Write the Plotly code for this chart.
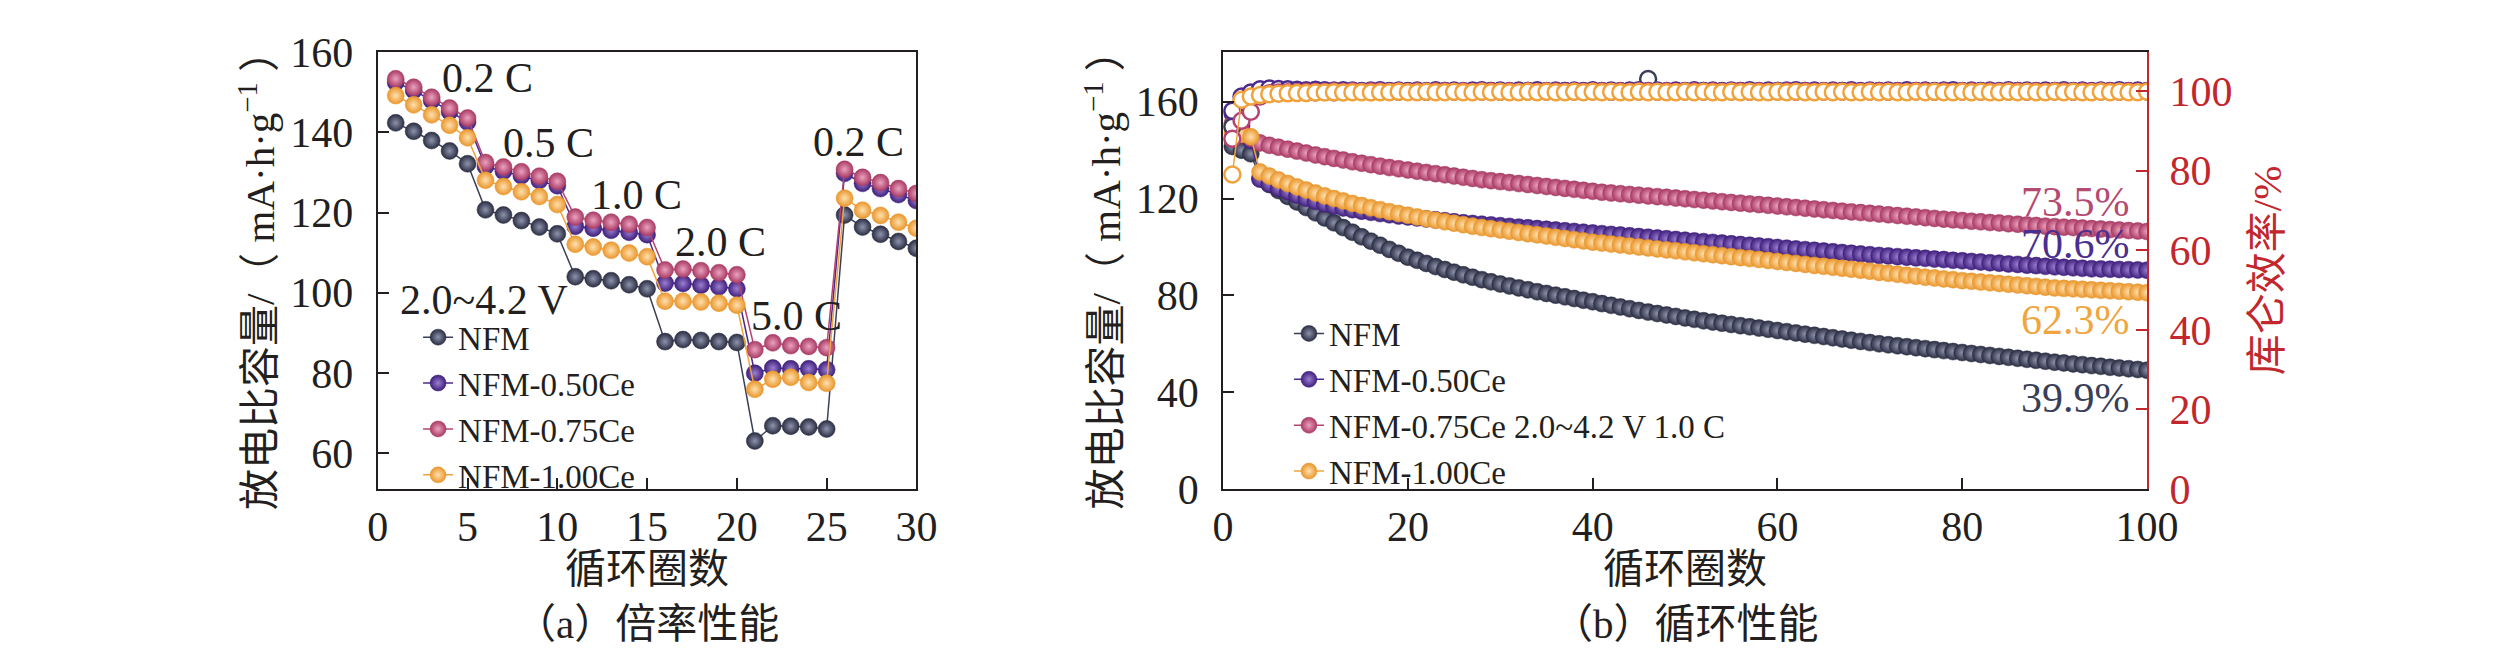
import plotly.graph_objects as go

FONT = "Liberation Serif, Noto Sans CJK SC, serif"
INK = "#231f20"
RED = "#c1272d"

W, H = 2519, 668

# ---------------- data ----------------
series_names = ["NFM", "NFM-0.50Ce", "NFM-0.75Ce", "NFM-1.00Ce"]
legend_names_b = ["NFM", "NFM-0.50Ce", "NFM-0.75Ce 2.0~4.2 V 1.0 C", "NFM-1.00Ce"]

# (a) rate performance, 5 cycles per rate
cycles_a = list(range(1, 31))
rate_nfm = [142.4, 140.3, 138.0, 135.4, 132.2, 120.7, 119.4, 118.0, 116.4, 114.7,
            104.0, 103.5, 103.0, 102.0, 101.0, 87.8, 88.3, 88.1, 87.8, 87.6,
            63.0, 66.8, 66.7, 66.5, 66.0, 119.4, 116.4, 114.6, 112.8, 111.1]
rate_050 = [152.5, 150.5, 148.0, 145.2, 142.6, 131.5, 130.3, 129.2, 128.0, 126.7,
            116.6, 116.1, 115.6, 115.1, 114.5, 102.4, 102.3, 101.9, 101.5, 101.0,
            79.9, 81.2, 81.0, 81.0, 80.8, 129.8, 127.3, 126.0, 124.5, 123.0]
rate_075 = [153.4, 151.3, 148.8, 146.1, 143.6, 132.5, 131.4, 130.2, 129.1, 127.8,
            118.9, 118.1, 117.6, 117.1, 116.3, 105.7, 105.9, 105.5, 105.0, 104.5,
            85.8, 87.5, 86.8, 86.6, 86.3, 130.8, 128.8, 127.5, 126.0, 124.8]
rate_100 = [149.2, 146.9, 144.4, 141.8, 138.7, 128.1, 126.5, 125.2, 124.0, 122.0,
            112.1, 111.4, 110.6, 109.9, 109.0, 97.9, 97.9, 97.7, 97.4, 96.9,
            75.9, 78.4, 78.9, 77.6, 77.4, 123.6, 120.6, 119.3, 117.6, 116.1]

rate_labels = ["0.2 C", "0.5 C", "1.0 C", "2.0 C", "5.0 C", "0.2 C", "2.0~4.2 V"]
rate_label_x = [6.1, 9.5, 14.4, 19.1, 23.3, 26.8, 5.9]
rate_label_y = [153.6, 137.4, 124.5, 112.6, 94.3, 137.6, 98.3]

# (b) cycling at 1.0 C
cycles_b = list(range(1, 101))
cap_nfm = [141.5, 140.0, 138.5, 128.5, 125.8, 123.3, 120.9, 118.6, 116.3, 114.1,
           112.0, 110.0, 108.0, 106.1, 104.2, 102.4, 100.7, 99.0, 97.4, 95.8,
           94.5, 93.2, 91.9, 90.7, 89.6, 88.5, 87.5, 86.5, 85.6, 84.7,
           83.9, 83.1, 82.3, 81.5, 80.8, 80.1, 79.4, 78.7, 78.0, 77.4,
           76.6, 75.9, 75.2, 74.5, 73.8, 73.1, 72.5, 71.9, 71.3, 70.7,
           70.1, 69.5, 69.0, 68.5, 68.0, 67.5, 67.0, 66.5, 66.0, 65.5,
           65.0, 64.5, 64.0, 63.5, 63.0, 62.5, 62.0, 61.5, 61.0, 60.5,
           60.0, 59.6, 59.2, 58.8, 58.4, 58.0, 57.6, 57.2, 56.8, 56.4,
           56.0, 55.6, 55.2, 54.8, 54.4, 54.0, 53.6, 53.2, 52.8, 52.4,
           52.1, 51.7, 51.4, 51.0, 50.7, 50.3, 50.0, 49.7, 49.4, 49.1]
cap_050 = [155.0, 150.0, 144.0, 128.0, 126.0, 124.3, 122.8, 121.4, 120.1, 118.9,
           117.8, 116.9, 116.1, 115.4, 114.8, 114.3, 113.8, 113.3, 112.8, 112.4,
           112.0, 111.6, 111.2, 110.8, 110.4, 110.0, 109.7, 109.4, 109.1, 108.8,
           108.5, 108.2, 107.9, 107.6, 107.3, 107.0, 106.7, 106.4, 106.1, 105.8,
           105.5, 105.2, 104.9, 104.6, 104.3, 104.0, 103.7, 103.4, 103.1, 102.8,
           102.5, 102.2, 101.9, 101.6, 101.3, 101.0, 100.7, 100.4, 100.1, 99.8,
           99.5, 99.2, 98.9, 98.6, 98.3, 98.0, 97.7, 97.4, 97.1, 96.8,
           96.5, 96.3, 96.0, 95.8, 95.5, 95.3, 95.0, 94.8, 94.5, 94.3,
           94.0, 93.8, 93.5, 93.3, 93.0, 92.8, 92.5, 92.3, 92.0, 91.8,
           91.6, 91.4, 91.2, 91.0, 90.9, 90.8, 90.7, 90.6, 90.5, 90.4]
cap_075 = [151.0, 148.0, 145.0, 143.0, 142.0, 141.2, 140.4, 139.6, 138.8, 138.0,
           137.3, 136.6, 135.9, 135.2, 134.6, 134.0, 133.4, 132.8, 132.3, 131.8,
           131.3, 130.8, 130.3, 129.8, 129.3, 128.8, 128.3, 127.8, 127.4, 127.0,
           126.6, 126.2, 125.8, 125.4, 125.0, 124.6, 124.2, 123.8, 123.4, 123.0,
           122.6, 122.3, 122.0, 121.7, 121.4, 121.1, 120.8, 120.5, 120.2, 119.9,
           119.6, 119.3, 119.0, 118.7, 118.4, 118.1, 117.8, 117.5, 117.2, 116.9,
           116.6, 116.3, 116.0, 115.7, 115.4, 115.1, 114.8, 114.5, 114.2, 113.9,
           113.6, 113.3, 113.0, 112.7, 112.4, 112.1, 111.8, 111.5, 111.2, 110.9,
           110.6, 110.4, 110.1, 109.9, 109.6, 109.4, 109.1, 108.9, 108.6, 108.4,
           108.2, 108.0, 107.8, 107.6, 107.4, 107.2, 107.0, 106.8, 106.6, 106.4]
cap_100 = [147.0, 146.5, 145.5, 131.0, 129.3, 127.7, 126.2, 124.8, 123.5, 122.3,
           121.1, 120.0, 119.0, 118.0, 117.1, 116.2, 115.4, 114.6, 113.8, 113.1,
           112.4, 111.7, 111.0, 110.4, 109.8, 109.2, 108.6, 108.0, 107.5, 107.0,
           106.5, 106.0, 105.5, 105.0, 104.5, 104.0, 103.5, 103.0, 102.5, 102.0,
           101.6, 101.2, 100.8, 100.4, 100.0, 99.6, 99.2, 98.8, 98.4, 98.0,
           97.6, 97.2, 96.8, 96.4, 96.0, 95.6, 95.2, 94.8, 94.4, 94.0,
           93.6, 93.2, 92.8, 92.4, 92.0, 91.6, 91.2, 90.8, 90.4, 90.0,
           89.5, 89.1, 88.7, 88.3, 87.9, 87.5, 87.2, 86.8, 86.5, 86.1,
           85.8, 85.5, 85.2, 84.9, 84.6, 84.3, 84.0, 83.7, 83.4, 83.1,
           82.9, 82.7, 82.5, 82.3, 82.1, 81.9, 81.7, 81.5, 81.3, 81.1]

# coulombic efficiency (right axis, %)
ce_nfm = [91.0, 97.2, 98.5, 99.1, 99.4, 99.5, 99.6, 99.6, 99.7, 99.7,
          99.8, 99.7, 99.8, 99.8, 99.9, 99.8, 99.8, 99.9, 99.8, 99.9,
          99.9, 99.8, 99.9, 100.0, 99.9, 99.8, 99.9, 99.9, 100.0, 99.9,
          99.8, 99.9, 100.0, 99.9, 99.9, 99.8, 100.0, 99.9, 99.9, 100.0,
          99.9, 99.8, 99.9, 100.0, 99.9, 103.0, 99.9, 99.8, 100.0, 99.9,
          99.9, 100.0, 99.8, 99.9, 99.9, 100.0, 99.9, 99.8, 99.9, 100.0,
          99.9, 99.9, 100.0, 99.8, 99.9, 99.9, 100.0, 99.9, 99.8, 99.9,
          100.0, 99.9, 99.9, 99.8, 100.0, 99.9, 99.9, 100.0, 99.8, 99.9,
          99.9, 100.0, 99.9, 99.8, 99.9, 100.0, 99.9, 99.9, 99.8, 100.0,
          99.9, 99.9, 100.0, 99.8, 99.9, 99.9, 100.0, 99.9, 99.8, 99.9]
ce_050 = [95.0, 98.6, 99.6, 100.4, 100.6, 100.5, 100.4, 100.3, 100.2, 100.3,
          100.2, 100.1, 100.2, 100.1, 100.0, 100.1, 100.2, 100.0, 100.1, 100.0,
          100.1, 100.0, 100.2, 100.0, 100.1, 100.0, 100.1, 100.2, 100.0, 100.1,
          100.0, 100.1, 100.0, 100.2, 100.0, 100.1, 100.0, 100.1, 100.0, 100.2,
          100.0, 100.1, 100.0, 100.1, 100.2, 100.0, 100.1, 100.0, 100.1, 100.0,
          100.2, 100.0, 100.1, 100.0, 100.1, 100.0, 100.2, 100.0, 100.1, 100.0,
          100.1, 100.2, 100.0, 100.1, 100.0, 100.1, 100.0, 100.2, 100.0, 100.1,
          100.0, 100.1, 100.0, 100.2, 100.0, 100.1, 100.0, 100.1, 100.2, 100.0,
          100.1, 100.0, 100.1, 100.0, 100.2, 100.0, 100.1, 100.0, 100.1, 100.0,
          100.2, 100.0, 100.1, 100.0, 100.1, 100.0, 100.2, 100.0, 100.1, 100.0]
ce_075 = [88.0, 92.5, 94.8, 98.6, 99.4, 99.6, 99.7, 99.7, 99.8, 99.8,
          99.8, 99.9, 99.8, 99.9, 99.8, 99.9, 99.9, 99.8, 99.9, 99.8,
          99.9, 99.8, 99.9, 99.9, 99.8, 99.9, 99.8, 99.9, 99.9, 99.8,
          99.9, 99.8, 99.9, 99.8, 99.9, 99.9, 99.8, 99.9, 99.8, 99.9,
          99.9, 99.8, 99.9, 99.8, 99.9, 99.9, 99.8, 99.9, 99.8, 99.9,
          99.9, 99.8, 99.9, 99.8, 99.9, 99.9, 99.8, 99.9, 99.8, 99.9,
          99.9, 99.8, 99.9, 99.8, 99.9, 99.9, 99.8, 99.9, 99.8, 99.9,
          99.9, 99.8, 99.9, 99.8, 99.9, 99.9, 99.8, 99.9, 99.8, 99.9,
          99.9, 99.8, 99.9, 99.8, 99.9, 99.9, 99.8, 99.9, 99.8, 99.9,
          99.9, 99.8, 99.9, 99.8, 99.9, 99.9, 99.8, 99.9, 99.8, 99.9]
ce_100 = [79.0, 97.8, 98.6, 99.0, 99.2, 99.3, 99.4, 99.5, 99.5, 99.6,
          99.6, 99.7, 99.6, 99.7, 99.7, 99.6, 99.7, 99.7, 99.8, 99.7,
          99.7, 99.8, 99.7, 99.7, 99.8, 99.7, 99.7, 99.8, 99.7, 99.8,
          99.7, 99.7, 99.8, 99.7, 99.8, 99.7, 99.7, 99.8, 99.7, 99.8,
          99.7, 99.8, 99.7, 99.7, 99.8, 99.7, 99.8, 99.7, 99.7, 99.8,
          99.7, 99.8, 99.7, 99.7, 99.8, 99.7, 99.8, 99.7, 99.7, 99.8,
          99.7, 99.8, 99.7, 99.7, 99.8, 99.7, 99.8, 99.7, 99.7, 99.8,
          99.7, 99.8, 99.7, 99.7, 99.8, 99.7, 99.8, 99.7, 99.7, 99.8,
          99.7, 99.8, 99.7, 99.7, 99.8, 99.7, 99.8, 99.7, 99.7, 99.8,
          99.7, 99.8, 99.7, 99.7, 99.8, 99.7, 99.8, 99.7, 99.7, 99.8]

retention_labels = ["39.9%", "70.6%", "73.5%", "62.3%"]
retention_y = [37.7, 101.2, 118.5, 69.8]

# ---------------- styling ----------------
line_cols = ["#3b3f57", "#4b2a8c", "#b4446f", "#f0a33c"]
ball_cols = ["#2b2e42", "#3f1f7c", "#a83a63", "#e9962c"]
glow_cols = ["#8e93ad", "#9b7fd0", "#eca2bf", "#ffe0ae"]
text_cols = ["#3a3f58", "#4b2f8f", "#b44a72", "#f0a640"]

rates = [rate_nfm, rate_050, rate_075, rate_100]
caps = [cap_nfm, cap_050, cap_075, cap_100]
ces = [ce_nfm, ce_050, ce_075, ce_100]

fig = go.Figure()

for name, vals, lc, bc, gc in zip(series_names, rates, line_cols, ball_cols, glow_cols):
    fig.add_trace(go.Scatter(
        x=cycles_a, y=vals, name=name, mode="lines+markers",
        xaxis="x", yaxis="y", legend="legend",
        line=dict(color=lc, width=1.5),
        marker=dict(size=17, color=bc, gradient=dict(type="radial", color=gc),
                    line=dict(width=0.5, color=bc)),
    ))

for name, vals, lc, bc, gc in zip(legend_names_b, caps, line_cols, ball_cols, glow_cols):
    fig.add_trace(go.Scatter(
        x=cycles_b, y=vals, name=name, mode="lines+markers",
        xaxis="x2", yaxis="y2", legend="legend2",
        line=dict(color=lc, width=1.5),
        marker=dict(size=17, color=bc, gradient=dict(type="radial", color=gc),
                    line=dict(width=0.5, color=bc)),
    ))

for name, vals, lc in zip(series_names, ces, line_cols):
    fig.add_trace(go.Scatter(
        x=cycles_b, y=vals, name=name + " CE", mode="lines+markers",
        xaxis="x2", yaxis="y3", showlegend=False,
        line=dict(color=lc, width=1.5),
        marker=dict(size=16, color="white", line=dict(width=2.5, color=lc)),
    ))

ydom = [(H - 493) / H, (H - 24) / H]
axis_base = dict(
    showline=True, linewidth=2, linecolor=INK, showgrid=False, zeroline=False,
    ticks="inside", ticklen=11, tickwidth=2, tickcolor=INK,
    tickfont=dict(family=FONT, size=42, color=INK),
)

annotations = []
for txt, xv, yv in zip(rate_labels, rate_label_x, rate_label_y):
    annotations.append(dict(x=xv, y=yv, xref="x", yref="y", text=txt, showarrow=False,
                            xanchor="center", yanchor="middle",
                            font=dict(family=FONT, size=42, color=INK)))
for txt, yv, tc in zip(retention_labels, retention_y, text_cols):
    annotations.append(dict(x=98.4, y=yv, xref="x2", yref="y2", text=txt, showarrow=False,
                            xanchor="right", yanchor="middle",
                            font=dict(family=FONT, size=42, color=tc)))

title_font = dict(family=FONT, size=41, color=INK)
ylab = "放电比容量/（ mA·h·g<sup>−1</sup> ）"
for xc, txt, col in [(242, ylab, INK), (1103, ylab, INK), (2287, "库仑效率/%", RED)]:
    annotations.append(dict(x=xc / W, y=(H - 258) / H, xref="paper", yref="paper",
                            text=txt, textangle=-90, showarrow=False,
                            xanchor="center", yanchor="middle",
                            font=dict(family=FONT, size=41, color=col)))
for xc, txt in [(639, "循环圈数"), (1695, "循环圈数")]:
    annotations.append(dict(x=xc / W, y=(H - 579) / H, xref="paper", yref="paper",
                            text=txt, showarrow=False, xanchor="center", yanchor="middle",
                            font=title_font))
for xc, txt in [(639, "（a）倍率性能"), (1695, "（b）循环性能")]:
    annotations.append(dict(x=xc / W, y=(H - 638) / H, xref="paper", yref="paper",
                            text=txt, showarrow=False, xanchor="center", yanchor="middle",
                            font=title_font))

legend_base = dict(xanchor="left", yanchor="middle", bgcolor="rgba(0,0,0,0)",
                   font=dict(family=FONT, size=33, color=INK), itemwidth=30,
                   tracegroupgap=0)

fig.update_layout(
    width=W, height=H,
    margin=dict(l=0, r=0, t=0, b=0),
    paper_bgcolor="white", plot_bgcolor="white",
    xaxis=dict(axis_base, domain=[365 / W, 913 / W], anchor="y", range=[0, 30],
               tick0=0, dtick=5, mirror=True, ticklabelstandoff=0),
    yaxis=dict(axis_base, domain=ydom, anchor="x", range=[51, 160],
               tick0=0, dtick=20, mirror=True, ticklabelstandoff=14),
    xaxis2=dict(axis_base, domain=[1225 / W, 2165 / W], anchor="y2", range=[0, 100],
                tick0=0, dtick=20, mirror=True, ticklabelstandoff=0),
    yaxis2=dict(axis_base, domain=ydom, anchor="x2", range=[0, 180.4],
                tick0=0, dtick=40, ticklabelstandoff=14),
    yaxis3=dict(axis_base, overlaying="y2", side="right", anchor="x2",
                range=[0, 109.7], tick0=0, dtick=20, linecolor=RED, tickcolor=RED,
                tickfont=dict(family=FONT, size=42, color=RED), ticklabelstandoff=12),
    legend=dict(legend_base, x=406 / W, y=(H - 404) / H),
    legend2=dict(legend_base, x=1292 / W, y=(H - 400) / H),
    annotations=annotations,
)

fig.write_html("out.html")
